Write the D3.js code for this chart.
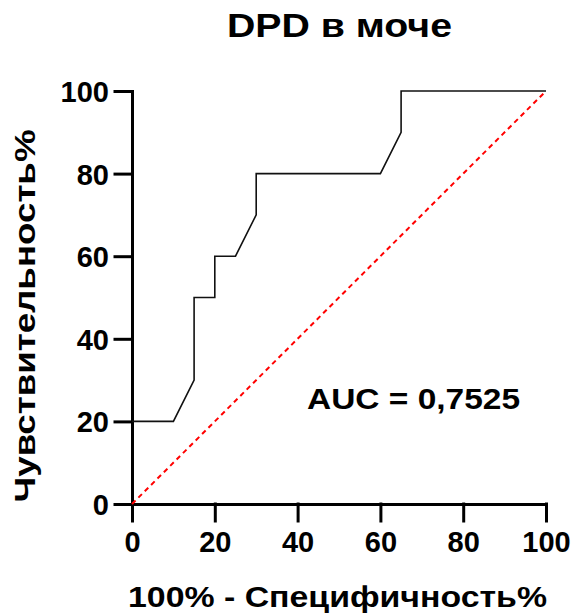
<!DOCTYPE html>
<html>
<head>
<meta charset="utf-8">
<script src="https://cdn.jsdelivr.net/npm/d3@7"></script>
<style>
  body { margin: 0; background: #fff; }
  svg text { font-family: "Liberation Sans", Arial, sans-serif; font-weight: bold; fill: #000; }
</style>
</head>
<body>
<svg id="chart"></svg>
<script>
// ROC curve points (100% - specificity, sensitivity)
const rocX = [0, 10, 15, 15, 20, 20, 25, 30, 30, 60, 65, 65, 100];
const rocY = [20, 20, 30, 50, 50, 60, 60, 70, 80, 80, 90, 100, 100];
const refX = [0, 100];
const refY = [0, 100];
const ticks = [0, 20, 40, 60, 80, 100];
const title = 'DPD в моче';
const xTitle = '100% - Специфичность%';
const yTitle = 'Чувствительность%';
const aucLabel = 'AUC = 0,7525';

const width = 572;
const height = 616;
const margin = { top: 91, right: 26, bottom: 112, left: 132 };

const svg = d3.select('#chart')
  .attr('width', width)
  .attr('height', height);

const x = d3.scaleLinear().domain([0, 100]).range([margin.left, width - margin.right]);
const y = d3.scaleLinear().domain([0, 100]).range([height - margin.bottom, margin.top]);

// axes
const xAxis = svg.append('g')
  .attr('transform', `translate(0,${y(0)})`)
  .call(d3.axisBottom(x).tickValues(ticks).tickSize(17).tickSizeOuter(0).tickPadding(10));

const yAxis = svg.append('g')
  .attr('transform', `translate(${x(0)},0)`)
  .call(d3.axisLeft(y).tickValues(ticks).tickSize(17).tickSizeOuter(0).tickPadding(6));

[xAxis, yAxis].forEach((g) => {
  g.selectAll('path, line')
    .attr('stroke', '#000')
    .attr('stroke-width', 3)
    .attr('stroke-linecap', 'square');
  g.selectAll('text')
    .style('font-size', '29px')
    .style('font-weight', 'bold')
    .attr('fill', '#000');
});
yAxis.selectAll('text').attr('dy', '0.36em');

// reference diagonal
svg.append('path')
  .datum(refX.map((d, i) => [d, refY[i]]))
  .attr('d', d3.line().x((d) => x(d[0])).y((d) => y(d[1])))
  .attr('fill', 'none')
  .attr('stroke', '#ff0000')
  .attr('stroke-width', 2)
  .attr('stroke-dasharray', '5,4');

// ROC curve
svg.append('path')
  .datum(rocX.map((d, i) => [d, rocY[i]]))
  .attr('d', d3.line().x((d) => x(d[0])).y((d) => y(d[1])))
  .attr('fill', 'none')
  .attr('stroke', '#111')
  .attr('stroke-width', 1.6);

// texts (stretched a bit wider like the original)
svg.append('text')
  .attr('x', 339.5)
  .attr('y', 37)
  .attr('text-anchor', 'middle')
  .attr('textLength', 225)
  .attr('lengthAdjust', 'spacingAndGlyphs')
  .style('font-size', '33px')
  .text(title);

svg.append('text')
  .attr('x', 337.5)
  .attr('y', 607)
  .attr('text-anchor', 'middle')
  .attr('textLength', 419)
  .attr('lengthAdjust', 'spacingAndGlyphs')
  .style('font-size', '29px')
  .text(xTitle);

svg.append('text')
  .attr('transform', 'translate(35,316) rotate(-90)')
  .attr('text-anchor', 'middle')
  .attr('textLength', 373)
  .attr('lengthAdjust', 'spacingAndGlyphs')
  .style('font-size', '29px')
  .text(yTitle);

svg.append('text')
  .attr('x', 307)
  .attr('y', 409)
  .attr('textLength', 213)
  .attr('lengthAdjust', 'spacingAndGlyphs')
  .style('font-size', '29px')
  .text(aucLabel);
</script>
</body>
</html>
